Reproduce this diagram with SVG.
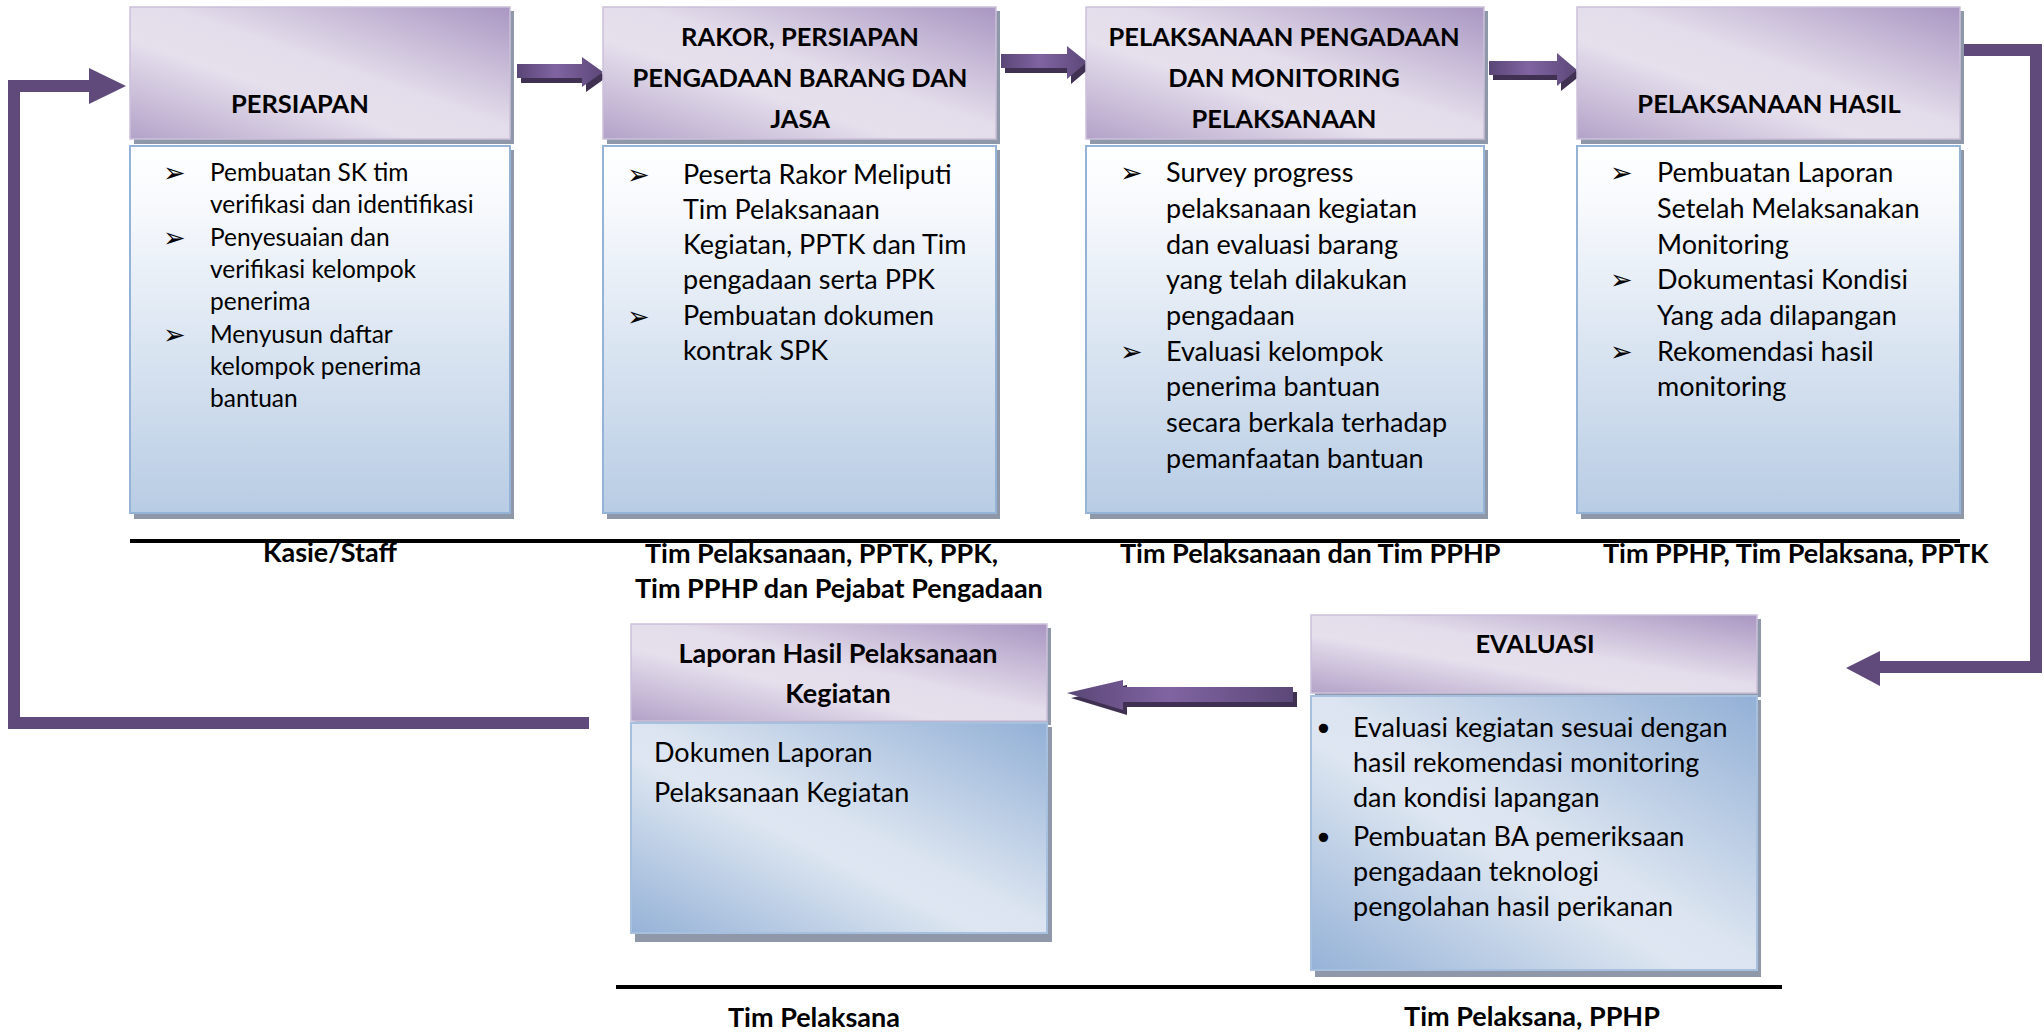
<svg xmlns="http://www.w3.org/2000/svg" width="2044" height="1035" viewBox="0 0 2044 1035">
  <defs>
    <linearGradient id="gHead" x1="1" y1="0" x2="0" y2="1">
      <stop offset="0" stop-color="#a996c2"/>
      <stop offset="0.45" stop-color="#e3dcea"/>
      <stop offset="0.62" stop-color="#e6e0ed"/>
      <stop offset="1" stop-color="#b3a2c8"/>
    </linearGradient>
    <linearGradient id="gBodyTop" x1="0" y1="0" x2="0" y2="1">
      <stop offset="0" stop-color="#ffffff"/>
      <stop offset="0.15" stop-color="#f8fafd"/>
      <stop offset="1" stop-color="#b8cce4"/>
    </linearGradient>
    <linearGradient id="gBodyLow" x1="1" y1="0" x2="0" y2="1">
      <stop offset="0" stop-color="#92b0d6"/>
      <stop offset="0.48" stop-color="#dbe4f0"/>
      <stop offset="0.58" stop-color="#dde6f1"/>
      <stop offset="1" stop-color="#95b2d7"/>
    </linearGradient>
    <linearGradient id="gArrow" x1="0" y1="0" x2="1" y2="0">
      <stop offset="0" stop-color="#5a4676"/>
      <stop offset="0.45" stop-color="#8064a2"/>
      <stop offset="1" stop-color="#5c4878"/>
    </linearGradient>
    <style>
      .shadow { fill: #8e98a8; }
      .head { fill: url(#gHead); stroke: #cbc0da; stroke-width: 1.5; }
      .bodyTop { fill: url(#gBodyTop); stroke: #95b3d7; stroke-width: 2; }
      .bodyLow { fill: url(#gBodyLow); stroke: #a7c0df; stroke-width: 2; }
      .ttl { font-family: Lato, "Liberation Sans", sans-serif; font-weight: 700; font-size: 27px; fill: #000; text-anchor: middle; }
      .ttl.caps { font-size: 25.5px; }
      .txt { font-family: Lato, "Liberation Sans", sans-serif; font-size: 27px; fill: #000; }
      .txt.sm { font-size: 24.5px; }
      .blt { font-family: "DejaVu Sans", sans-serif; font-size: 27px; fill: #000; }
      .dot { font-family: "DejaVu Sans", sans-serif; font-size: 32px; fill: #000; }
      .lbl { font-family: Lato, "Liberation Sans", sans-serif; font-weight: 700; font-size: 27px; fill: #000; }
      .rule { stroke: #000; stroke-width: 4; }
      .loop { fill: none; stroke: #604a7b; stroke-width: 12; }
      .loopHead { fill: #604a7b; }
      .ext { fill: #403152; }
      .blk { fill: url(#gArrow); }
    </style>
  </defs>

  <!-- Connectors -->
  <g id="connectors">
    <!-- block arrows between the upper stages -->
    <g id="arrow-1-2">
      <polygon class="ext" points="521,69 586,69 586,62 607,77 586,92 586,83 521,83"/>
      <polygon class="blk" points="517,64 582,64 582,57 603,72 582,87 582,78 517,78"/>
    </g>
    <g id="arrow-2-3">
      <polygon class="ext" points="1005,59 1071,59 1071,51 1091,67 1071,84 1071,73 1005,73"/>
      <polygon class="blk" points="1001,54 1067,54 1067,46 1087,62 1067,79 1067,68 1001,68"/>
    </g>
    <g id="arrow-3-4">
      <polygon class="ext" points="1493,66 1561,66 1561,58 1581,75 1561,91 1561,80 1493,80"/>
      <polygon class="blk" points="1489,61 1557,61 1557,53 1577,70 1557,86 1557,75 1489,75"/>
    </g>
    <!-- block arrow from EVALUASI back to the report stage -->
    <g id="arrow-eval-lap">
      <polygon class="ext" points="1297,692 1127,692 1127,685 1071,698 1127,715 1127,707 1297,707"/>
      <polygon class="blk" points="1293,687 1123,687 1123,680 1067,693 1123,710 1123,702 1293,702"/>
    </g>
    <!-- right loop: PELAKSANAAN HASIL down to EVALUASI -->
    <g id="loop-right">
      <path class="loop" d="M1960,50 H2036 V667 H1878"/>
      <polygon class="loopHead" points="1880,651 1846,668 1880,686"/>
    </g>
    <!-- left loop: report back to PERSIAPAN -->
    <g id="loop-left">
      <path class="loop" d="M589,723 H14 V86 H91"/>
      <polygon class="loopHead" points="89,68 126,86 89,104"/>
    </g>
  </g>

  <!-- Responsibility rules -->
  <line class="rule" x1="130" y1="541" x2="1960" y2="541"/>
  <line class="rule" x1="616" y1="987" x2="1782" y2="987"/>

  <!-- Stage 1 -->
  <g id="node-persiapan">
    <rect class="shadow" x="134" y="11" width="380" height="133"/>
    <rect class="head" x="130" y="7" width="380" height="132"/>
    <rect class="shadow" x="134" y="150" width="380" height="369"/>
    <rect class="bodyTop" x="130" y="146" width="380" height="367"/>
    <text class="ttl caps" x="300" y="113">PERSIAPAN</text>
    <text class="blt" x="163" y="182">➢</text>
    <text class="blt" x="163" y="247">➢</text>
    <text class="blt" x="163" y="344">➢</text>
    <text class="txt sm" x="210" y="181">Pembuatan SK tim</text>
    <text class="txt sm" x="210" y="213">verifikasi dan identifikasi</text>
    <text class="txt sm" x="210" y="246">Penyesuaian dan</text>
    <text class="txt sm" x="210" y="278">verifikasi kelompok</text>
    <text class="txt sm" x="210" y="310">penerima</text>
    <text class="txt sm" x="210" y="343">Menyusun daftar</text>
    <text class="txt sm" x="210" y="375">kelompok penerima</text>
    <text class="txt sm" x="210" y="407">bantuan</text>
  </g>

  <!-- Stage 2 -->
  <g id="node-rakor">
    <rect class="shadow" x="607" y="11" width="393" height="133"/>
    <rect class="head" x="603" y="7" width="393" height="132"/>
    <rect class="shadow" x="607" y="150" width="393" height="369"/>
    <rect class="bodyTop" x="603" y="146" width="393" height="367"/>
    <text class="ttl caps" x="800" y="46">RAKOR, PERSIAPAN</text>
    <text class="ttl caps" x="800" y="87">PENGADAAN BARANG DAN</text>
    <text class="ttl caps" x="800" y="128">JASA</text>
    <text class="blt" x="627" y="184">➢</text>
    <text class="blt" x="627" y="326">➢</text>
    <text class="txt" x="683" y="184">Peserta Rakor Meliputi</text>
    <text class="txt" x="683" y="219">Tim Pelaksanaan</text>
    <text class="txt" x="683" y="254">Kegiatan, PPTK dan Tim</text>
    <text class="txt" x="683" y="289">pengadaan serta PPK</text>
    <text class="txt" x="683" y="325">Pembuatan dokumen</text>
    <text class="txt" x="683" y="360">kontrak SPK</text>
  </g>

  <!-- Stage 3 -->
  <g id="node-pelaksanaan-pengadaan">
    <rect class="shadow" x="1090" y="11" width="398" height="133"/>
    <rect class="head" x="1086" y="7" width="398" height="132"/>
    <rect class="shadow" x="1090" y="150" width="398" height="369"/>
    <rect class="bodyTop" x="1086" y="146" width="398" height="367"/>
    <text class="ttl caps" x="1284" y="46">PELAKSANAAN PENGADAAN</text>
    <text class="ttl caps" x="1284" y="87">DAN MONITORING</text>
    <text class="ttl caps" x="1284" y="128">PELAKSANAAN</text>
    <text class="blt" x="1120" y="182">➢</text>
    <text class="blt" x="1120" y="361">➢</text>
    <text class="txt" x="1166" y="182">Survey progress</text>
    <text class="txt" x="1166" y="218">pelaksanaan kegiatan</text>
    <text class="txt" x="1166" y="254">dan evaluasi barang</text>
    <text class="txt" x="1166" y="289">yang telah dilakukan</text>
    <text class="txt" x="1166" y="325">pengadaan</text>
    <text class="txt" x="1166" y="361">Evaluasi kelompok</text>
    <text class="txt" x="1166" y="396">penerima bantuan</text>
    <text class="txt" x="1166" y="432">secara berkala terhadap</text>
    <text class="txt" x="1166" y="468">pemanfaatan bantuan</text>
  </g>

  <!-- Stage 4 -->
  <g id="node-pelaksanaan-hasil">
    <rect class="shadow" x="1581" y="11" width="383" height="133"/>
    <rect class="head" x="1577" y="7" width="383" height="132"/>
    <rect class="shadow" x="1581" y="150" width="383" height="369"/>
    <rect class="bodyTop" x="1577" y="146" width="383" height="367"/>
    <text class="ttl caps" x="1769" y="113">PELAKSANAAN HASIL</text>
    <text class="blt" x="1610" y="182">➢</text>
    <text class="blt" x="1610" y="289">➢</text>
    <text class="blt" x="1610" y="361">➢</text>
    <text class="txt" x="1657" y="182">Pembuatan Laporan</text>
    <text class="txt" x="1657" y="218">Setelah Melaksanakan</text>
    <text class="txt" x="1657" y="254">Monitoring</text>
    <text class="txt" x="1657" y="289">Dokumentasi Kondisi</text>
    <text class="txt" x="1657" y="325">Yang ada dilapangan</text>
    <text class="txt" x="1657" y="361">Rekomendasi hasil</text>
    <text class="txt" x="1657" y="396">monitoring</text>
  </g>

  <!-- Responsible parties, upper row -->
  <g id="labels-top">
    <text class="lbl" x="330" y="562" text-anchor="middle">Kasie/Staff</text>
    <text class="lbl" x="645" y="563">Tim Pelaksanaan, PPTK, PPK,</text>
    <text class="lbl" x="635" y="598">Tim PPHP dan Pejabat Pengadaan</text>
    <text class="lbl" x="1120" y="563">Tim Pelaksanaan dan Tim PPHP</text>
    <text class="lbl" x="1603" y="563">Tim PPHP, Tim Pelaksana, PPTK</text>
  </g>

  <!-- Evaluation stage -->
  <g id="node-evaluasi">
    <rect class="shadow" x="1315" y="619" width="446" height="78"/>
    <rect class="head" x="1311" y="615" width="446" height="78"/>
    <rect class="shadow" x="1315" y="700" width="446" height="277"/>
    <rect class="bodyLow" x="1311" y="696" width="446" height="274"/>
    <text class="ttl caps" x="1535" y="653">EVALUASI</text>
    <text class="dot" x="1314" y="740">•</text>
    <text class="dot" x="1314" y="849">•</text>
    <text class="txt" x="1353" y="737">Evaluasi kegiatan sesuai dengan</text>
    <text class="txt" x="1353" y="772">hasil rekomendasi monitoring</text>
    <text class="txt" x="1353" y="807">dan kondisi lapangan</text>
    <text class="txt" x="1353" y="846">Pembuatan BA pemeriksaan</text>
    <text class="txt" x="1353" y="881">pengadaan teknologi</text>
    <text class="txt" x="1353" y="916">pengolahan hasil perikanan</text>
  </g>

  <!-- Report stage -->
  <g id="node-laporan">
    <rect class="shadow" x="635" y="628" width="416" height="97"/>
    <rect class="head" x="631" y="624" width="416" height="97"/>
    <rect class="shadow" x="635" y="727" width="417" height="215"/>
    <rect class="bodyLow" x="631" y="723" width="416" height="210"/>
    <text class="ttl" x="838" y="663">Laporan Hasil Pelaksanaan</text>
    <text class="ttl" x="838" y="703">Kegiatan</text>
    <text class="txt" x="654" y="762">Dokumen Laporan</text>
    <text class="txt" x="654" y="802">Pelaksanaan Kegiatan</text>
  </g>

  <!-- Responsible parties, lower row -->
  <g id="labels-bottom">
    <text class="lbl" x="814" y="1027" text-anchor="middle">Tim Pelaksana</text>
    <text class="lbl" x="1532" y="1026" text-anchor="middle">Tim Pelaksana, PPHP</text>
  </g>
</svg>
